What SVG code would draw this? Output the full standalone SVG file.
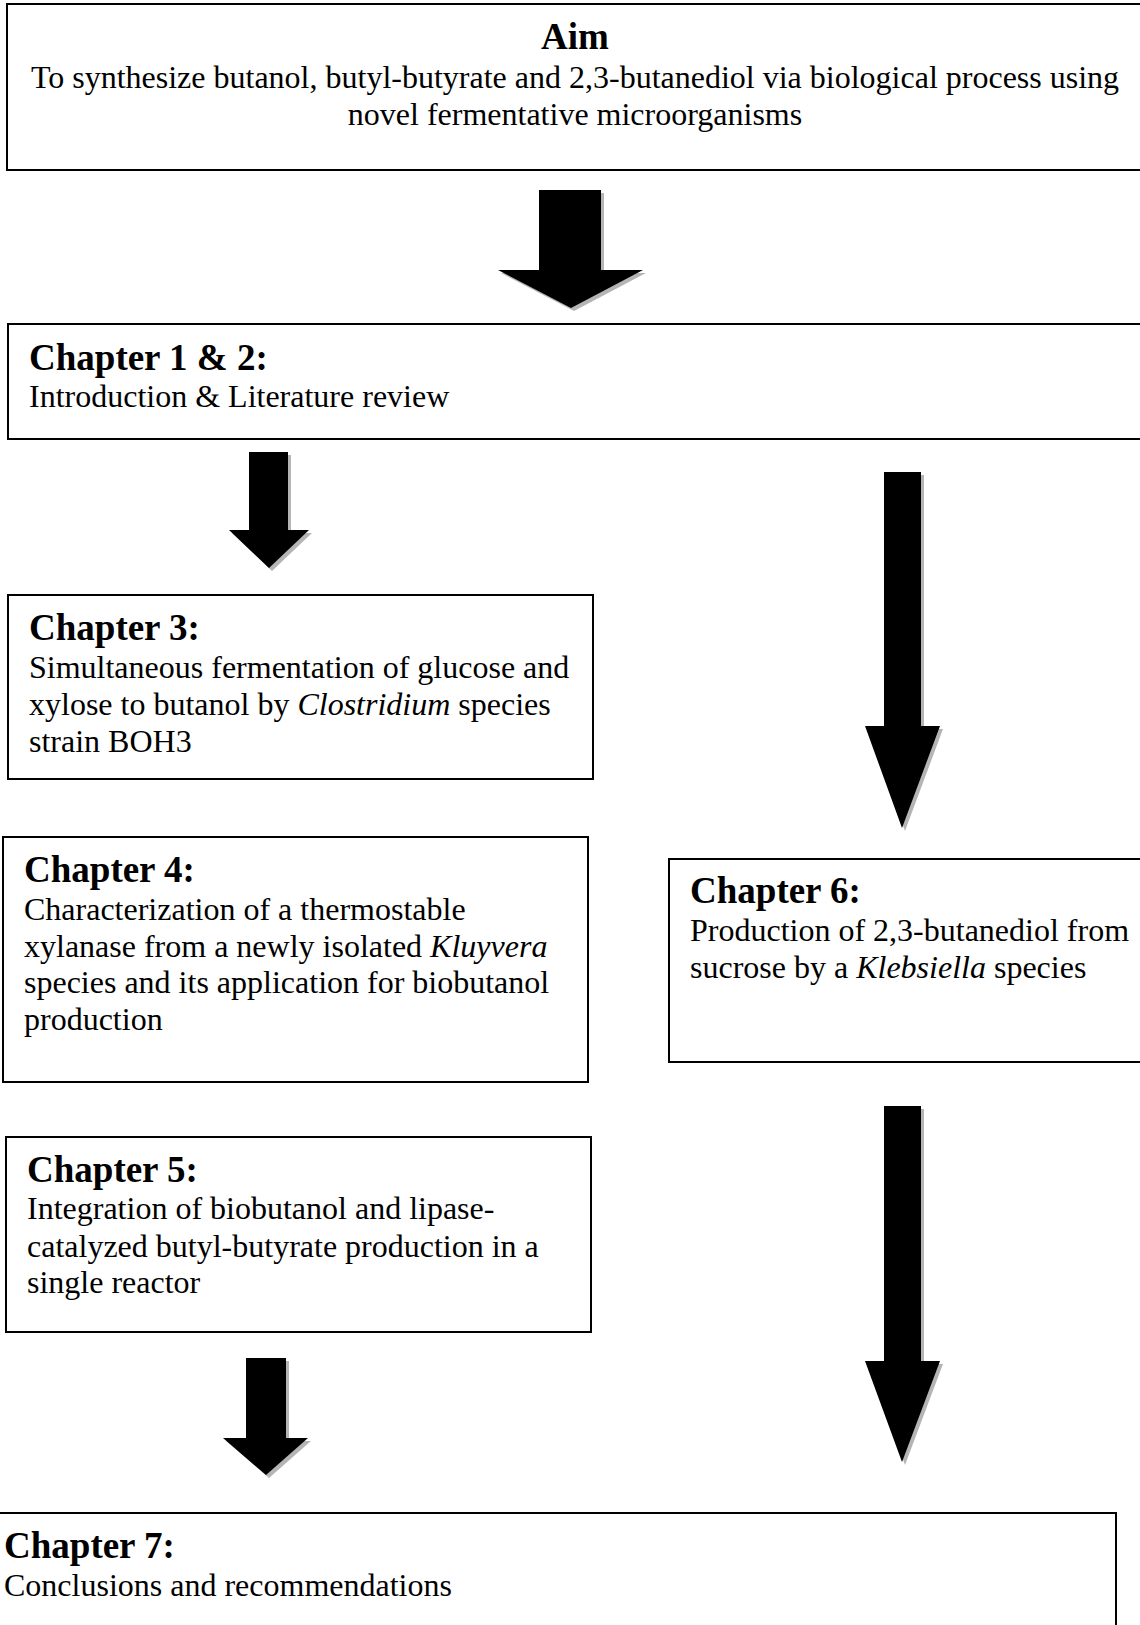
<svg xmlns="http://www.w3.org/2000/svg" xmlns:xlink="http://www.w3.org/1999/xlink" width="1140" height="1625" viewBox="0 0 1140 1625">
<style>
.box{fill:#fff;stroke:#000;stroke-width:2}
.h{font-family:"Liberation Serif","Times New Roman",serif;font-weight:bold;font-size:37px;fill:#000}
.t{font-family:"Liberation Serif","Times New Roman",serif;font-size:32px;fill:#000}
.arr{fill:#000}
.sh{fill:#b5b5b5}
</style>
<rect width="1140" height="1625" fill="#fff"/>
<g id="connectors">
  <g id="a1">
    <polygon class="sh" transform="translate(3,3)" points="539,190 601,190 601,270 643,270 571,308 498,270 539,270"/>
    <polygon class="arr" points="539,190 601,190 601,270 643,270 571,308 498,270 539,270"/>
  </g>
  <g id="a2">
    <polygon class="sh" transform="translate(3,3)" points="249,452 288,452 288,530 309,530 269,568 229,530 249,530"/>
    <polygon class="arr" points="249,452 288,452 288,530 309,530 269,568 229,530 249,530"/>
  </g>
  <g id="a3">
    <polygon class="sh" transform="translate(3,3)" points="246,1358 286,1358 286,1438 308,1438 266,1475 223,1438 246,1438"/>
    <polygon class="arr" points="246,1358 286,1358 286,1438 308,1438 266,1475 223,1438 246,1438"/>
  </g>
  <g id="r1">
    <polygon class="sh" transform="translate(3,3)" points="884,472 921,472 921,726 940,726 902,828 865,726 884,726"/>
    <polygon class="arr" points="884,472 921,472 921,726 940,726 902,828 865,726 884,726"/>
  </g>
  <g id="r2">
    <polygon class="sh" transform="translate(3,3)" points="884,1106 921,1106 921,1361 940,1361 902,1462 865,1361 884,1361"/>
    <polygon class="arr" points="884,1106 921,1106 921,1361 940,1361 902,1462 865,1361 884,1361"/>
  </g>
</g>
<g id="aim">
  <rect class="box" x="7" y="4" width="1145" height="166"/>
  <text class="h" x="575" y="49" text-anchor="middle">Aim</text>
  <text class="t" x="575" y="88" text-anchor="middle">To synthesize butanol, butyl-butyrate and 2,3-butanediol via biological process using</text>
  <text class="t" x="575" y="125" text-anchor="middle">novel fermentative microorganisms</text>
</g>
<g id="ch12">
  <rect class="box" x="8" y="324" width="1145" height="115"/>
  <text class="h" x="29" y="370">Chapter 1 &amp; 2:</text>
  <text class="t" x="29" y="407">Introduction &amp; Literature review</text>
</g>
<g id="ch3">
  <rect class="box" x="8" y="595" width="585" height="184"/>
  <text class="h" x="29" y="640">Chapter 3:</text>
  <text class="t" x="29" y="678">Simultaneous fermentation of glucose and</text>
  <text class="t" x="29" y="715">xylose to butanol by <tspan font-style="italic">Clostridium</tspan> species</text>
  <text class="t" x="29" y="752">strain BOH3</text>
</g>
<g id="ch4">
  <rect class="box" x="3" y="837" width="585" height="245"/>
  <text class="h" x="24" y="882">Chapter 4:</text>
  <text class="t" x="24" y="920">Characterization of a thermostable</text>
  <text class="t" x="24" y="957">xylanase from a newly isolated <tspan font-style="italic">Kluyvera</tspan></text>
  <text class="t" x="24" y="993">species and its application for biobutanol</text>
  <text class="t" x="24" y="1030">production</text>
</g>
<g id="ch6">
  <rect class="box" x="669" y="859" width="480" height="203"/>
  <text class="h" x="690" y="903">Chapter 6:</text>
  <text class="t" x="690" y="941">Production of 2,3-butanediol from</text>
  <text class="t" x="690" y="978">sucrose by a <tspan font-style="italic">Klebsiella</tspan> species</text>
</g>
<g id="ch5">
  <rect class="box" x="6" y="1137" width="585" height="195"/>
  <text class="h" x="27" y="1182">Chapter 5:</text>
  <text class="t" x="27" y="1219">Integration of biobutanol and lipase-</text>
  <text class="t" x="27" y="1257">catalyzed butyl-butyrate production in a</text>
  <text class="t" x="27" y="1293">single reactor</text>
</g>
<g id="ch7">
  <rect class="box" x="-5" y="1513" width="1121" height="130"/>
  <text class="h" x="4" y="1558">Chapter 7:</text>
  <text class="t" x="4" y="1596">Conclusions and recommendations</text>
</g>
</svg>
